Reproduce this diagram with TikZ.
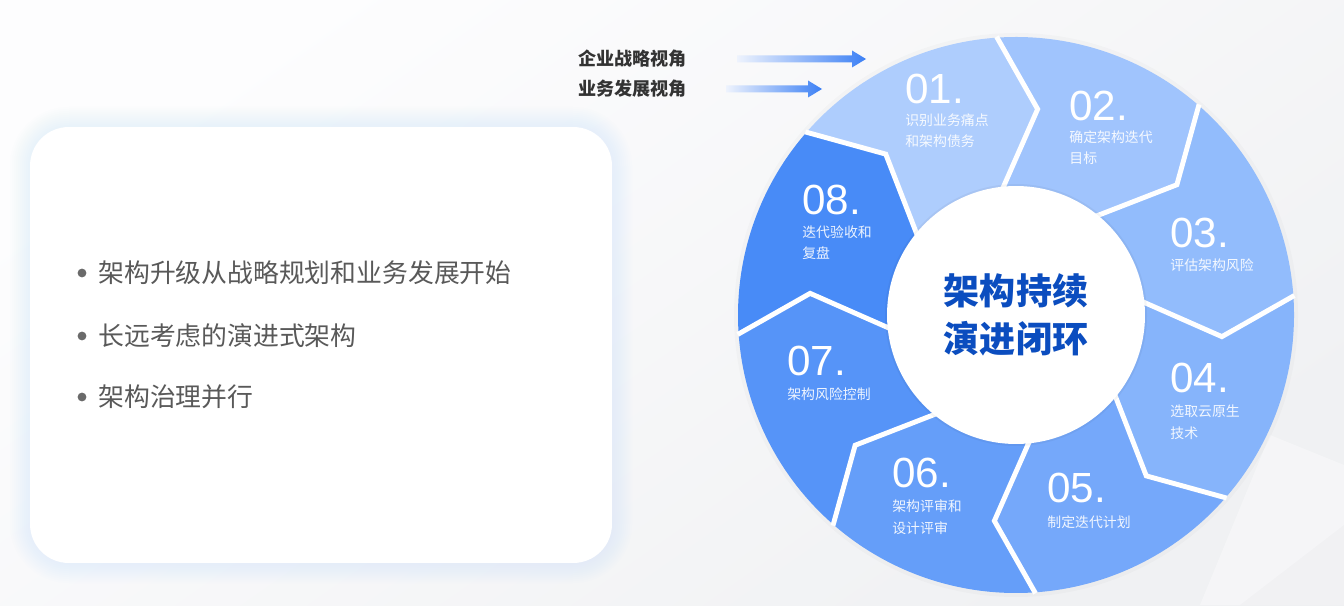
\documentclass[tikz,border=0pt]{standalone}
\usepackage{fontspec}
\setmainfont{Noto Sans CJK SC}
\newfontfamily\numfont{Liberation Sans}
\usetikzlibrary{calc}
\definecolor{bgA}{HTML}{FDFDFE}
\definecolor{bgB}{HTML}{F0F1F3}
\definecolor{glow}{HTML}{BFD3FA}
\definecolor{s1}{HTML}{AECDFD}
\definecolor{s2}{HTML}{A0C4FD}
\definecolor{s3}{HTML}{92BCFC}
\definecolor{s4}{HTML}{86B4FB}
\definecolor{s5}{HTML}{75A8FA}
\definecolor{s6}{HTML}{659EF9}
\definecolor{s7}{HTML}{5694F8}
\definecolor{s8}{HTML}{488BF7}
\definecolor{titleblue}{HTML}{0B4DBF}
\definecolor{darktext}{HTML}{333333}
\definecolor{bullettext}{HTML}{595959}
\definecolor{arrowA}{HTML}{EEF3FD}
\definecolor{arrowB}{HTML}{3C80F5}
\tikzset{
  numlabel/.style={anchor=base west, inner sep=0pt, text=white, font=\numfont\fontsize{24}{24}\selectfont},
  seglabel/.style={anchor=base west, inner sep=0pt, text=white, text opacity=0.9, align=left, font=\fontsize{7.9}{12}\selectfont},
  toplabel/.style={anchor=east, inner sep=0pt, text=darktext, font=\bfseries\fontsize{10.3}{12}\selectfont},
  bulletitem/.style={anchor=west, inner sep=0pt, text=bullettext, font=\fontsize{14.7}{18}\selectfont},
  bulletdot/.style={circle, fill=bullettext!90, inner sep=0pt, minimum size=5pt},
  gapline/.style={white, line width=2.8pt, line join=miter},
  flowarrow/.style={left color=arrowA, right color=arrowB, draw=none}
}
\begin{document}
\begin{tikzpicture}[x=0.02cm,y=0.02cm]
\useasboundingbox (0,0) rectangle (1344,605);
% background
\shade[top color=bgA, bottom color=bgB, shading angle=35] (0,0) rectangle (1344,605);
\fill[white, opacity=0.35] (1200,0) -- (1344,0) -- (1344,140) -- (1270,170) -- cycle;
\fill[black, opacity=0.015] (1240,0) -- (1344,0) -- (1344,80) -- cycle;
% left box with glow
\foreach \e in {2,4,...,20}{
  \pgfmathsetmacro\rc{22+\e*0.567}
  \fill[glow, opacity=0.022, rounded corners=\rc pt] (30-\e,42-\e) rectangle (612+\e,478+\e);
}
\node[draw=none, fill=white, rounded corners=22pt, minimum width=11.64cm, minimum height=8.72cm, inner sep=0pt] (box) at (321,260) {};
\node[bulletdot] (d1) at (82,332) {};
\node[bulletdot] (d2) at (82,269) {};
\node[bulletdot] (d3) at (82,208) {};
\node[bulletitem] (t1) at (98,332) {架构升级从战略规划和业务发展开始};
\node[bulletitem] (t2) at (98,269) {长远考虑的演进式架构};
\node[bulletitem] (t3) at (98,208) {架构治理并行};
% top labels and arrows
\node[toplabel] (v1) at (687,546) {企业战略视角};
\node[toplabel] (v2) at (687,516) {业务发展视角};
\coordinate (a1s) at (737,546);
\coordinate (a1e) at (866,546);
\coordinate (a2s) at (726,516);
\coordinate (a2e) at (822,516);
\shade[flowarrow] ($(a1s)+(0,-3.5)$) -- ($(a1e)+(-14,-3.5)$) -- ($(a1e)+(-14,-8.5)$) -- (a1e) -- ($(a1e)+(-14,8.5)$) -- ($(a1e)+(-14,3.5)$) -- ($(a1s)+(0,3.5)$) -- cycle;
\shade[flowarrow] ($(a2s)+(0,-3.5)$) -- ($(a2e)+(-14,-3.5)$) -- ($(a2e)+(-14,-8.5)$) -- (a2e) -- ($(a2e)+(-14,8.5)$) -- ($(a2e)+(-14,3.5)$) -- ($(a2s)+(0,3.5)$) -- cycle;
% cycle
\coordinate (C) at (1016,290);
\fill[black, opacity=0.02] (C) circle[radius=282];
\foreach \k/\col in {1/s1,2/s2,3/s3,4/s4,5/s5,6/s6,7/s7,8/s8}{
  \pgfmathsetmacro\a{184-45*\k}
  \pgfmathsetmacro\b{139-45*\k}
  \pgfmathsetmacro\bk{\b-10}
  \pgfmathsetmacro\bi{\b+4}
  \pgfmathsetmacro\ak{\a-10}
  \pgfmathsetmacro\ai{\a+4}
  \fill[\col] ($(C)+(\a:278)$) arc[start angle=\a, end angle=\b, radius=278]
     -- ($(C)+(\bk:207)$) -- ($(C)+(\bi:122)$)
     arc[start angle=\bi, end angle=\ai, radius=122]
     -- ($(C)+(\ak:207)$) -- cycle;
}
\foreach \k in {1,...,8}{
  \pgfmathsetmacro\b{139-45*\k}
  \pgfmathsetmacro\bk{\b-10}
  \pgfmathsetmacro\bi{\b+4}
  \draw[gapline] ($(C)+(\b:279)$) -- ($(C)+(\bk:207)$) -- ($(C)+(\bi:120)$);
}
\fill[black, opacity=0.04] (C) circle[radius=131];
\node[circle, fill=white, minimum size=5.16cm, inner sep=0pt, align=center, text=titleblue,
      font=\bfseries\fontsize{20.5}{27}\selectfont] (center) at (C) {架构持续\\演进闭环};
% numbers and labels (multi-line labels anchored at the last baseline)
\node[numlabel] (n1) at (905,501) {01.};
\node[seglabel] (l1) at (905,458) {识别业务痛点\\和架构债务};
\node[numlabel] (n2) at (1069,484) {02.};
\node[seglabel] (l2) at (1069,441) {确定架构迭代\\目标};
\node[numlabel] (n3) at (1170,357) {03.};
\node[seglabel] (l3) at (1170,334) {评估架构风险};
\node[numlabel] (n4) at (1170,212) {04.};
\node[seglabel] (l4) at (1170,167) {选取云原生\\技术};
\node[numlabel] (n5) at (1047,103) {05.};
\node[seglabel] (l5) at (1047,78) {制定迭代计划};
\node[numlabel] (n6) at (892,118) {06.};
\node[seglabel] (l6) at (892,72) {架构评审和\\设计评审};
\node[numlabel] (n7) at (787,229) {07.};
\node[seglabel] (l7) at (787,205) {架构风险控制};
\node[numlabel] (n8) at (802,390) {08.};
\node[seglabel] (l8) at (802,346) {迭代验收和\\复盘};
\end{tikzpicture}
\end{document}
